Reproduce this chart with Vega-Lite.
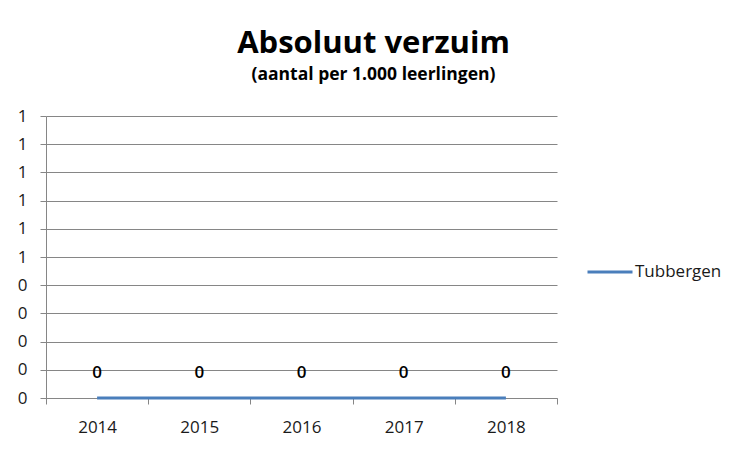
{
  "$schema": "https://vega.github.io/schema/vega-lite/v6.json",
  "width": 511,
  "height": 282,
  "autosize": "none",
  "padding": {"left": 46, "top": 116, "right": 191, "bottom": 52},
  "background": "white",
  "title": {
    "text": "Absoluut verzuim",
    "subtitle": "(aantal per 1.000 leerlingen)",
    "anchor": "middle",
    "frame": "group",
    "dx": 72,
    "offset": 23,
    "font": "Open Sans",
    "fontSize": 31,
    "fontWeight": "bold",
    "color": "black",
    "subtitleFont": "Open Sans",
    "subtitleFontSize": 17.5,
    "subtitleFontWeight": "bold",
    "subtitleColor": "black",
    "subtitlePadding": 6
  },
  "data": {
    "values": [
      {"jaar": "2014", "gemeente": "Tubbergen", "waarde": 0},
      {"jaar": "2015", "gemeente": "Tubbergen", "waarde": 0},
      {"jaar": "2016", "gemeente": "Tubbergen", "waarde": 0},
      {"jaar": "2017", "gemeente": "Tubbergen", "waarde": 0},
      {"jaar": "2018", "gemeente": "Tubbergen", "waarde": 0}
    ]
  },
  "encoding": {
    "x": {
      "field": "jaar",
      "type": "ordinal",
      "bandPosition": 0.5,
      "scale": {"type": "band", "paddingInner": 0, "paddingOuter": 0},
      "axis": {
        "title": null,
        "labelAngle": 0,
        "tickBand": "extent",
        "grid": false,
        "domainColor": "#868686",
        "tickColor": "#868686",
        "tickSize": 6,
        "labelPadding": 15,
        "labelFont": "Open Sans",
        "labelFontSize": 17,
        "labelColor": "#1a1a1a"
      }
    },
    "y": {
      "field": "waarde",
      "type": "quantitative",
      "scale": {"domain": [0, 1], "nice": false, "zero": true},
      "axis": {
        "title": null,
        "values": [0, 0.1, 0.2, 0.3, 0.4, 0.5, 0.6, 0.7, 0.8, 0.9, 1],
        "labelExpr": "format(round(datum.value), 'd')",
        "grid": true,
        "gridColor": "#868686",
        "gridOpacity": 1,
        "domainColor": "#868686",
        "tickColor": "#868686",
        "tickSize": 6,
        "labelPadding": 13,
        "labelFont": "Open Sans",
        "labelFontSize": 17,
        "labelColor": "#1a1a1a"
      }
    }
  },
  "layer": [
    {
      "mark": {"type": "line", "strokeWidth": 3},
      "encoding": {
        "color": {
          "field": "gemeente",
          "type": "nominal",
          "scale": {"range": ["#4a7ebb"]},
          "legend": {
            "title": null,
            "orient": "none",
            "legendX": 540,
            "legendY": 132,
            "symbolType": "stroke",
            "symbolSize": 2025,
            "symbolStrokeWidth": 3,
            "labelOffset": 1,
            "labelFont": "Open Sans",
            "labelFontSize": 17,
            "labelColor": "#1a1a1a"
          }
        }
      }
    },
    {
      "mark": {"type": "text", "baseline": "alphabetic", "dy": -20, "font": "Open Sans", "fontSize": 17, "fontWeight": 600, "color": "black"},
      "encoding": {
        "text": {"field": "waarde", "type": "quantitative", "format": "d"}
      }
    }
  ],
  "config": {
    "view": {"stroke": null}
  }
}
